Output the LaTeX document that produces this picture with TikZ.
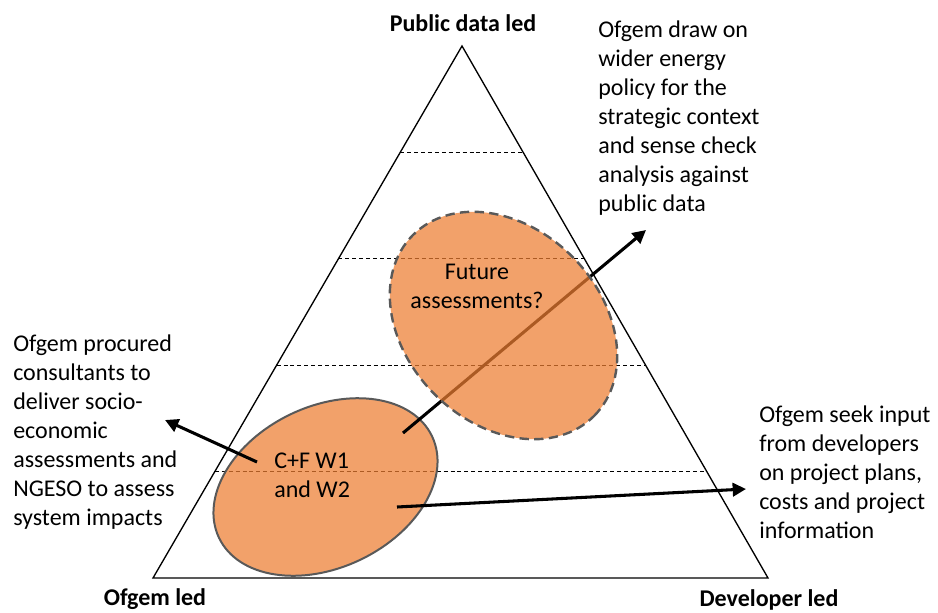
\documentclass[tikz,border=0pt]{standalone}
\usepackage{fontspec}
\setmainfont{Carlito}
\usetikzlibrary{shapes.geometric,arrows.meta,calc}
\definecolor{blobfill}{RGB}{237,125,49}
\definecolor{blobedge}{RGB}{89,89,89}
\begin{document}
\begin{tikzpicture}[x=0.75pt,y=-0.75pt,
  side/.style={line width=1pt,line join=miter},
  level/.style={dash pattern=on 3pt off 2.2pt, line width=0.6pt},
  blob/.style={ellipse, fill=blobfill, fill opacity=0.72, draw=blobedge,
    line width=1.5pt, inner sep=0pt, outer sep=0pt},
  pointer/.style={line width=2.3pt, -{Triangle[length=10pt,width=10pt]}},
  note/.style={align=left, inner sep=0pt, font=\fontsize{18}{21.75}\selectfont},
  inblob/.style={inner sep=0pt, font=\fontsize{18}{21.75}\selectfont},
  corner/.style={inner sep=0pt, font=\bfseries\fontsize{18}{21.75}\selectfont},
]
\useasboundingbox (0,0) rectangle (938,613);

% the triangle
\coordinate (apex) at (462,46);
\coordinate (bl) at (153,578);
\coordinate (br) at (768,578);
\draw[side] (apex) -- (bl) -- (br) -- cycle;

% dashed levels at fifths of the height
\foreach \f in {0.2,0.4,0.6,0.8}
  \draw[level] ($(apex)!\f!(bl)$) -- ($(apex)!\f!(br)$);

% current work
\node[blob, minimum width=177pt, minimum height=121pt, rotate=25.5]
  (cur) at (325.5,487) {};

% arrow end points
\coordinate (upS) at (403,433);
\coordinate (upE) at (646,230);
\coordinate (lfS) at (257,462);
\coordinate (lfE) at (165,420);
\coordinate (rtS) at (397,507);
\coordinate (rtE) at (746,489);

\draw[pointer] (upS) -- (upE);
\draw[pointer] (lfS) -- (lfE);
\draw[pointer] (rtS) -- (rtE);

% future work
\node[blob, line width=1.8pt, dash pattern=on 7pt off 4pt, minimum width=192pt,
  minimum height=146pt, rotate=-45] (fut) at (503.5,325.5) {};

% labels inside the ellipses
\node[inblob, align=center] (futtxt) at (477,286) {Future\\assessments?};
\node[inblob, align=left, anchor=west] (curtxt) at (274,475) {C+F W1\\and W2};

% corner labels
\node[corner] (toplab) at (463,23) {Public data led};
\node[corner] (leftlab) at (155,599) {Ofgem led};
\node[corner] (rightlab) at (769,600) {Developer led};

% notes
\node[note, anchor=north west] (ntop) at (598,21) {Ofgem draw on\\wider energy\\policy for the\\strategic context\\and sense check\\analysis against\\public data};
\node[note, anchor=north west] (nleft) at (13,335) {Ofgem procured\\consultants to\\deliver socio-\\economic\\assessments and\\NGESO to assess\\system impacts};
\node[note, anchor=north west] (nright) at (759,406) {Ofgem seek input\\from developers\\on project plans,\\costs and project\\information};
\end{tikzpicture}
\end{document}
